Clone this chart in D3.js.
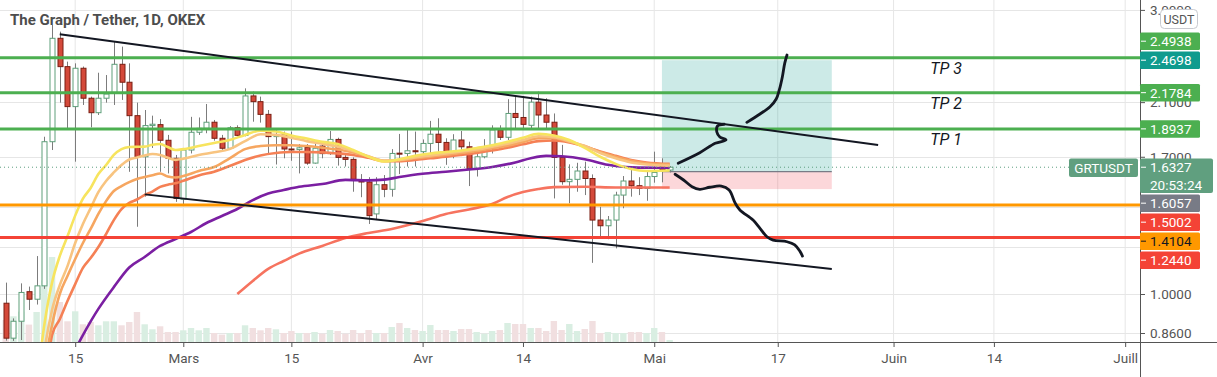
<!DOCTYPE html>
<html>
<head>
<meta charset="utf-8">
<script src="https://cdn.jsdelivr.net/npm/d3@7"></script>
<style>
  body { margin: 0; background: #fff; }
  svg { display: block; font-family: Roboto, 'Noto Sans', sans-serif; }
</style>
</head>
<body>
<div id="chartContainer"></div>
<script>
/** GRT/USDT 1D OKEX - daily candles */
var dates = [
  '2021-02-06','2021-02-07','2021-02-08','2021-02-09','2021-02-10','2021-02-11','2021-02-12','2021-02-13',
  '2021-02-14','2021-02-15','2021-02-16','2021-02-17','2021-02-18','2021-02-19','2021-02-20','2021-02-21',
  '2021-02-22','2021-02-23','2021-02-24','2021-02-25','2021-02-26','2021-02-27','2021-02-28',
  '2021-03-01','2021-03-02','2021-03-03','2021-03-04','2021-03-05','2021-03-06','2021-03-07','2021-03-08',
  '2021-03-09','2021-03-10','2021-03-11','2021-03-12','2021-03-13','2021-03-14','2021-03-15','2021-03-16',
  '2021-03-17','2021-03-18','2021-03-19','2021-03-20','2021-03-21','2021-03-22','2021-03-23','2021-03-24',
  '2021-03-25','2021-03-26','2021-03-27','2021-03-28','2021-03-29','2021-03-30','2021-03-31',
  '2021-04-01','2021-04-02','2021-04-03','2021-04-04','2021-04-05','2021-04-06','2021-04-07','2021-04-08',
  '2021-04-09','2021-04-10','2021-04-11','2021-04-12','2021-04-13','2021-04-14','2021-04-15','2021-04-16',
  '2021-04-17','2021-04-18','2021-04-19','2021-04-20','2021-04-21','2021-04-22','2021-04-23','2021-04-24',
  '2021-04-25','2021-04-26','2021-04-27','2021-04-28','2021-04-29','2021-04-30',
  '2021-05-01','2021-05-02','2021-05-03'
]
var opens = [
  0.965,0.843,0.900,1.009,0.980,1.032,1.802,2.688,2.409,2.064,2.394,2.132,2.016,2.132,2.178,2.431,2.268,1.993,1.700,1.918,1.925,1.812,1.690,
  1.443,1.745,1.869,1.898,1.943,1.826,1.757,1.902,1.847,2.151,2.104,2.003,1.838,1.850,1.752,1.748,1.762,1.659,1.772,1.721,1.818,1.696,1.683,1.548,1.542,1.363,1.526,1.499,1.724,1.722,1.740,
  1.734,1.790,1.855,1.797,1.730,1.814,1.767,1.625,1.700,1.764,1.886,1.833,2.010,1.979,1.920,2.100,1.998,1.943,1.696,1.544,1.558,1.609,1.563,1.331,1.302,1.331,1.466,1.548,1.520,1.504,
  1.575,1.640,1.615
]
var highs = [
  1.045,0.910,1.042,1.029,1.158,1.837,2.830,2.758,2.456,2.440,2.410,2.145,2.353,2.332,2.653,2.603,2.440,2.096,2.037,1.993,1.967,1.850,1.712,
  1.757,1.984,1.979,2.085,1.960,1.850,1.914,1.920,2.215,2.188,2.145,2.037,1.886,1.874,1.874,1.786,1.786,1.786,1.786,1.878,1.830,1.722,1.696,1.590,1.571,1.571,1.584,1.751,1.857,1.890,1.874,
  1.818,1.953,1.973,1.826,1.855,1.878,1.802,1.757,1.820,1.920,1.920,2.124,2.151,2.151,2.145,2.188,2.132,2.010,1.780,1.651,1.661,1.668,1.588,1.401,1.352,1.485,1.578,1.620,1.571,1.615,
  1.734,1.690,1.640
]
var lows = [
  0.835,0.834,0.837,0.940,0.960,1.020,1.745,2.096,1.898,1.668,2.077,1.905,1.998,2.096,2.077,2.118,1.604,1.297,1.457,1.759,1.604,1.594,1.428,
  1.416,1.722,1.850,1.862,1.809,1.745,1.750,1.840,1.840,1.947,1.940,1.722,1.650,1.690,1.674,1.594,1.648,1.655,1.690,1.712,1.643,1.637,1.485,1.454,1.311,1.331,1.454,1.457,1.590,1.637,1.637,
  1.690,1.722,1.734,1.648,1.690,1.712,1.518,1.575,1.690,1.722,1.814,1.814,1.898,1.886,1.886,1.898,1.898,1.447,1.526,1.420,1.485,1.466,1.128,1.245,1.236,1.193,1.393,1.457,1.466,1.434,
  1.538,1.540,1.600
]
var closes = [
  0.843,0.900,1.006,0.980,1.032,1.802,2.688,2.409,2.064,2.394,2.132,2.016,2.132,2.167,2.431,2.268,1.993,1.700,1.918,1.928,1.812,1.690,1.447,
  1.745,1.869,1.898,1.943,1.826,1.757,1.902,1.847,2.151,2.104,2.003,1.838,1.850,1.752,1.748,1.760,1.659,1.757,1.721,1.818,1.696,1.683,1.558,1.542,1.354,1.526,1.499,1.722,1.720,1.740,1.736,
  1.790,1.855,1.797,1.730,1.814,1.767,1.625,1.700,1.764,1.886,1.833,2.010,1.979,1.927,2.100,1.998,1.943,1.696,1.544,1.558,1.609,1.563,1.331,1.302,1.331,1.466,1.548,1.520,1.504,1.575,
  1.600,1.615,1.6327
]
var volumes = [
  22,25.7,30.4,17.4,30,61.7,85,40,20.7,30.7,17.7,20,16.7,20.7,20.7,16.7,20,30,17.7,12.7,15.7,10,10,
  11.7,14,11.7,14,9,7.4,9,9,16.7,14,11.7,14,12.7,9,11,9,9,10,8.3,12,11,8.3,12,9,12,9,9,15,19,14,12,
  11,17,12,12,11,13,13,10,8.3,11,12,19,18,18,14,14,11,21,12,18,11,13,21,9,10,9,9,10,10,9,
  14,10,2
]

/** moving averages, read at sample days (offset from 1 Mars) */
var ribbonDays = [-19,-18,-17,-16,-15,-14,-13,-12,-11,-10,-9,-8,-7,-6,-5,-4,-3,-2,-1,0,2,4,6,8,10,12,14,16,18,20,22,24,26,28,30,32,34,36,38,40,42,44,46,48,50,52,54,56,58,60,63]
var emaYellow = [0.70,0.887,1.045,1.158,1.250,1.354,1.446,1.507,1.590,1.647,1.712,1.751,1.765,1.767,1.768,1.781,1.786,1.765,1.745,1.751,1.772,1.793,1.814,1.850,1.881,1.874,1.846,1.824,1.802,1.786,1.745,1.700,1.669,1.684,1.706,1.722,1.732,1.742,1.759,1.778,1.802,1.830,1.858,1.846,1.814,1.759,1.700,1.654,1.622,1.609,1.612]
var emaLight = [0.62,0.80,0.940,1.035,1.114,1.218,1.311,1.394,1.483,1.548,1.600,1.647,1.682,1.696,1.709,1.718,1.712,1.693,1.680,1.688,1.712,1.730,1.751,1.806,1.855,1.850,1.830,1.806,1.788,1.768,1.739,1.703,1.675,1.679,1.696,1.709,1.722,1.735,1.748,1.768,1.788,1.814,1.840,1.833,1.806,1.772,1.725,1.690,1.663,1.650,1.643]
var emaOrange = [0.60,0.75,0.887,1.000,1.072,1.145,1.218,1.286,1.363,1.432,1.489,1.518,1.541,1.560,1.572,1.583,1.594,1.575,1.569,1.578,1.609,1.634,1.690,1.751,1.772,1.778,1.778,1.772,1.761,1.748,1.729,1.700,1.674,1.677,1.690,1.701,1.712,1.725,1.739,1.757,1.775,1.800,1.826,1.826,1.802,1.772,1.732,1.700,1.674,1.658,1.650]
var emaDark = [0.60,0.70,0.853,0.907,0.973,1.039,1.106,1.149,1.199,1.261,1.331,1.389,1.422,1.441,1.467,1.486,1.513,1.526,1.534,1.549,1.582,1.605,1.640,1.679,1.709,1.725,1.732,1.732,1.729,1.722,1.712,1.693,1.671,1.671,1.679,1.690,1.700,1.712,1.725,1.742,1.761,1.784,1.806,1.810,1.796,1.768,1.735,1.706,1.679,1.663,1.654]
var purpleDays = [-15,-13,-11,-9,-7,-5,-3,-1,1,3,5,7,9,11,13,15,18,21,24,26,28,31,34,37,40,43,45,47,49,52,55,58,63]
var emaPurple = [0.76,0.853,0.944,1.027,1.108,1.154,1.204,1.237,1.271,1.316,1.352,1.389,1.438,1.475,1.495,1.514,1.530,1.555,1.552,1.556,1.572,1.592,1.604,1.618,1.634,1.663,1.690,1.706,1.703,1.684,1.648,1.632,1.629]
var salmonDays = [7,9,11,13,15,18,21,24,27,31,34,37,40,42,44,46,48,52,56,60,63]
var emaSalmon = [1.000,1.052,1.102,1.136,1.169,1.204,1.242,1.266,1.286,1.326,1.363,1.387,1.416,1.455,1.483,1.501,1.512,1.514,1.510,1.510,1.510]

/** horizontal levels */
var levelPrices = [2.4938, 2.1784, 1.8937, 1.4104, 1.2440]
var levelColors = ['#4caf50', '#4caf50', '#4caf50', '#ff9800', '#f44336']
var tpNames = ['TP 3', 'TP 2', 'TP 1']

/** trend lines */
var trendUpperDates = ['2021-02-13', '2021-05-30']
var trendUpperPrices = [2.730, 1.779]
var trendLowerDates = ['2021-02-24', '2021-05-24']
var trendLowerPrices = [1.470, 1.102]

/** long position tool */
var posDates = ['2021-05-02', '2021-05-24']
var posTarget = 2.4698, posEntry = 1.6057, posStop = 1.5002

/** hand drawn paths (day offset from 1 Mars, price) */
var drawUpDays = [64.1, 66.9, 68.9, 70.3, 69.5, 69.1, 69.2, 70.05]
var drawUpPrices = [1.658, 1.727, 1.791, 1.814, 1.835, 1.873, 1.915, 1.928]
var drawUp2Days = [73.0, 74.7, 76.0, 76.8, 77.2, 77.6, 77.9, 78.2]
var drawUp2Prices = [1.942, 2.006, 2.063, 2.126, 2.201, 2.317, 2.440, 2.520]
var drawDownDays = [63.7, 64.8, 65.9, 66.9, 68.2, 69.7, 70.7, 71.5, 72.1, 73.8, 74.7, 75.6, 76.4, 78.2, 79.2, 79.9, 80.2]
var drawDownPrices = [1.589, 1.554, 1.514, 1.499, 1.511, 1.518, 1.495, 1.420, 1.384, 1.331, 1.289, 1.248, 1.232, 1.224, 1.209, 1.178, 1.158]

/** axes */
var xTickDates = ['2021-02-15','2021-03-01','2021-03-15','2021-04-01','2021-04-14','2021-05-01','2021-05-17','2021-06-01','2021-06-14','2021-07-01']
var xTickLabels = ['15', 'Mars', '15', 'Avr', '14', 'Mai', '17', 'Juin', '14', 'Juill']
var yTicks = [3, 2.5, 2.1, 1.7, 1.4, 1.2, 1, 0.86]
var axisLabelPrices = [2.4938, 2.4698, 2.1784, 1.8937, 1.6057, 1.5002, 1.4104, 1.2440]
var axisLabelBg = ['#4caf50', '#0f9b8e', '#4caf50', '#4caf50', '#787b86', '#f44336', '#ff9800', '#f44336']
var axisLabelFg = ['#fff', '#fff', '#fff', '#fff', '#fff', '#fff', '#131722', '#fff']
var lastPrice = 1.6327, countdown = '20:53:24', symbol = 'GRTUSDT'
var title = 'The Graph / Tether, 1D, OKEX'

var W = 1217, H = 377, plotW = 1140, plotH = 342
var parse = d3.utcParse('%Y-%m-%d')
var mar1 = parse('2021-03-01')
function dayOf(n) { return new Date(mar1.getTime() + n * 864e5) }

var x = d3.scaleUtc().domain([parse('2021-02-05'), parse('2021-07-03')]).range([-2, 1140.6])
var y = d3.scaleLog().domain([1, 3]).range([294, 9.9])
var yVol = d3.scaleLinear().domain([0, 85]).range([plotH, plotH - 85])

var candles = dates.map(function(d, i) {
  return { date: parse(d), o: opens[i], h: highs[i], l: lows[i], c: closes[i], v: volumes[i], up: closes[i] >= opens[i] }
})

var svgContainer = d3.select('#chartContainer')
  .append('svg')
  .attr('width', W)
  .attr('height', H)

svgContainer.append('rect').attr('width', W).attr('height', H).attr('fill', '#fff')

svgContainer.append('defs').append('clipPath').attr('id', 'plotClip')
  .append('rect').attr('x', 0).attr('y', 0).attr('width', plotW).attr('height', plotH)

var plot = svgContainer.append('g').attr('clip-path', 'url(#plotClip)')

/** grid */
plot.append('g').selectAll('line')
  .data(xTickDates.map(parse))
  .enter().append('line')
  .attr('x1', d => x(d)).attr('x2', d => x(d))
  .attr('y1', 0).attr('y2', plotH)
  .attr('stroke', '#e6e6e6')
plot.append('g').selectAll('line')
  .data(yTicks)
  .enter().append('line')
  .attr('x1', 0).attr('x2', plotW)
  .attr('y1', d => Math.round(y(d)) + 0.5).attr('y2', d => Math.round(y(d)) + 0.5)
  .attr('stroke', '#e6e6e6')

/** volume */
plot.append('g').selectAll('rect')
  .data(candles)
  .enter().append('rect')
  .attr('x', d => x(d.date) - 3.2)
  .attr('width', 6.4)
  .attr('y', d => yVol(d.v))
  .attr('height', d => plotH - yVol(d.v))
  .attr('fill', d => d.up ? '#d9eee2' : '#f1dfe0')

/** position tool */
var px0 = x(parse(posDates[0])), px1 = x(parse(posDates[1]))
plot.append('rect')
  .attr('x', px0).attr('width', px1 - px0)
  .attr('y', y(posTarget)).attr('height', y(posEntry) - y(posTarget))
  .attr('fill', 'rgba(0,150,136,0.2)')
plot.append('rect')
  .attr('x', px0).attr('width', px1 - px0)
  .attr('y', y(posEntry)).attr('height', y(posStop) - y(posEntry))
  .attr('fill', 'rgba(242,54,69,0.2)')
plot.append('line')
  .attr('x1', px0).attr('x2', px1)
  .attr('y1', y(posEntry)).attr('y2', y(posEntry))
  .attr('stroke', '#787b86').attr('stroke-width', 1.2)

/** candles */
var gCandles = plot.append('g')
gCandles.selectAll('line')
  .data(candles)
  .enter().append('line')
  .attr('x1', d => Math.round(x(d.date)) + 0.5).attr('x2', d => Math.round(x(d.date)) + 0.5)
  .attr('y1', d => y(d.h)).attr('y2', d => y(d.l))
  .attr('stroke', '#7c7c7c')
gCandles.selectAll('rect')
  .data(candles)
  .enter().append('rect')
  .attr('x', d => Math.round(x(d.date)) - 2)
  .attr('width', 5)
  .attr('y', d => y(Math.max(d.o, d.c)))
  .attr('height', d => Math.max(1, y(Math.min(d.o, d.c)) - y(Math.max(d.o, d.c))))
  .attr('fill', d => d.up ? '#ffffff' : '#d4493a')
  .attr('stroke', d => d.up ? '#5e9f7a' : '#7a1e12')
  .attr('stroke-width', 1)

/** moving averages */
var maLines = [
  { days: salmonDays, vals: emaSalmon, color: '#f6735f' },
  { days: purpleDays, vals: emaPurple, color: '#7b1fa2' },
  { days: ribbonDays, vals: emaDark, color: '#f58055' },
  { days: ribbonDays, vals: emaOrange, color: '#f6a660' },
  { days: ribbonDays, vals: emaLight, color: '#f8c480' },
  { days: ribbonDays, vals: emaYellow, color: '#f7e45e' }
]
var maLine = d3.line()
  .x(d => x(dayOf(d[0])))
  .y(d => y(d[1]))
  .curve(d3.curveMonotoneX)
plot.append('g').selectAll('path')
  .data(maLines)
  .enter().append('path')
  .attr('d', d => maLine(d.days.map((t, i) => [t, d.vals[i]])))
  .attr('fill', 'none')
  .attr('stroke', d => d.color)
  .attr('stroke-width', 2.6)
  .attr('stroke-linejoin', 'round')

/** last price line */
plot.append('line')
  .attr('x1', 0).attr('x2', plotW)
  .attr('y1', y(lastPrice)).attr('y2', y(lastPrice))
  .attr('stroke', '#5d9f80').attr('stroke-dasharray', '1,3')

/** levels */
plot.append('g').selectAll('line')
  .data(levelPrices)
  .enter().append('line')
  .attr('x1', 0).attr('x2', plotW)
  .attr('y1', d => y(d)).attr('y2', d => y(d))
  .attr('stroke', (d, i) => levelColors[i])
  .attr('stroke-width', 3)

/** trend lines */
var trends = [
  trendUpperDates.map((d, i) => [parse(d), trendUpperPrices[i]]),
  trendLowerDates.map((d, i) => [parse(d), trendLowerPrices[i]])
]
plot.append('g').selectAll('line')
  .data(trends)
  .enter().append('line')
  .attr('x1', d => x(d[0][0])).attr('y1', d => y(d[0][1]))
  .attr('x2', d => x(d[1][0])).attr('y2', d => y(d[1][1]))
  .attr('stroke', '#131722').attr('stroke-width', 2)

/** hand drawn scenario */
var drawings = [
  drawUpDays.map((t, i) => [t, drawUpPrices[i]]),
  drawUp2Days.map((t, i) => [t, drawUp2Prices[i]]),
  drawDownDays.map((t, i) => [t, drawDownPrices[i]])
]
var freeLine = d3.line()
  .x(d => x(dayOf(d[0])))
  .y(d => y(d[1]))
  .curve(d3.curveCatmullRom)
plot.append('g').selectAll('path')
  .data(drawings)
  .enter().append('path')
  .attr('d', freeLine)
  .attr('fill', 'none')
  .attr('stroke', '#131722')
  .attr('stroke-width', 2.8)
  .attr('stroke-linecap', 'round')
  .attr('stroke-linejoin', 'round')

/** TP texts */
plot.append('g').selectAll('text')
  .data(tpNames)
  .enter().append('text')
  .attr('x', x(new Date('2021-06-05T18:00:00Z')))
  .attr('y', (d, i) => y(levelPrices[i]) + 16)
  .attr('font-size', 16)
  .attr('font-style', 'italic')
  .attr('fill', '#131722')
  .text(d => d)

/** x axis */
var xAxis = d3.axisBottom(x)
  .tickValues(xTickDates.map(parse))
  .tickFormat((d, i) => xTickLabels[i])
  .tickSize(5)
  .tickPadding(6)
var gX = svgContainer.append('g').attr('transform', 'translate(0,' + plotH + ')').call(xAxis)
gX.select('.domain').remove()
gX.selectAll('line').attr('stroke', '#555')
gX.selectAll('text').attr('font-size', 13.5).attr('fill', '#555').attr('font-family', 'Roboto, sans-serif')

/** price labels on the axis, stacked so they do not overlap */
var lblH = 17.5, lblGap = 1.5
var anchorTop = y(lastPrice) - 8.7, anchorH = 34.4
var labels = axisLabelPrices.map((p, i) => ({ p: p, bg: axisLabelBg[i], fg: axisLabelFg[i], cy: y(p) }))
var limit = anchorTop - lblGap
labels.filter(d => d.p > lastPrice).sort((a, b) => b.cy - a.cy).forEach(function(d) {
  var bottom = Math.min(d.cy + lblH / 2, limit)
  d.top = bottom - lblH
  limit = d.top - lblGap
})
limit = anchorTop + anchorH + lblGap
labels.filter(d => d.p <= lastPrice).sort((a, b) => a.cy - b.cy).forEach(function(d) {
  d.top = Math.max(d.cy - lblH / 2, limit)
  limit = d.top + lblH + lblGap
})

/** y axis - a tick text fully under a price label stays hidden */
function covered(v) {
  var ty = y(v)
  return labels.some(d => Math.abs(ty - (d.top + lblH / 2)) < lblH / 2 - 2)
}
var yAxis = d3.axisRight(y)
  .tickValues(yTicks)
  .tickFormat(d => covered(d) ? '' : d3.format('.4f')(d))
  .tickSize(5)
  .tickPadding(5)
var gY = svgContainer.append('g').attr('transform', 'translate(' + plotW + ',0)').call(yAxis)
gY.select('.domain').remove()
gY.selectAll('line').attr('stroke', '#555')
gY.selectAll('text').attr('font-size', 13.5).attr('fill', '#555').attr('font-family', 'Roboto, sans-serif')

svgContainer.append('line')
  .attr('x1', 0).attr('x2', W).attr('y1', plotH + 0.5).attr('y2', plotH + 0.5)
  .attr('stroke', '#555')
svgContainer.append('line')
  .attr('x1', plotW + 0.5).attr('x2', plotW + 0.5).attr('y1', 0).attr('y2', H)
  .attr('stroke', '#555')

/** USDT badge */
svgContainer.append('rect')
  .attr('x', 1160.5).attr('y', 9.5).attr('width', 37).attr('height', 19).attr('rx', 4)
  .attr('fill', '#fff').attr('stroke', '#c8cad0')
svgContainer.append('text')
  .attr('x', 1179).attr('y', 19.5)
  .attr('text-anchor', 'middle').attr('dominant-baseline', 'central')
  .attr('font-size', 12.5).attr('fill', '#555')
  .text('USDT')

var gLabels = svgContainer.append('g')
var lbl = gLabels.selectAll('g')
  .data(labels)
  .enter().append('g')
  .attr('transform', d => 'translate(' + plotW + ',' + d.top + ')')
lbl.append('rect')
  .attr('width', 60).attr('height', lblH).attr('rx', 1.5)
  .attr('fill', d => d.bg)
lbl.append('line')
  .attr('x1', 1).attr('x2', 6).attr('y1', lblH / 2).attr('y2', lblH / 2)
  .attr('stroke', d => d.fg)
lbl.append('text')
  .attr('x', 10).attr('y', lblH / 2)
  .attr('dominant-baseline', 'central')
  .attr('font-size', 13.5)
  .attr('fill', d => d.fg)
  .text(d => d3.format('.4f')(d.p))

/** current price label */
var gPrice = svgContainer.append('g').attr('transform', 'translate(' + plotW + ',' + anchorTop + ')')
gPrice.append('rect').attr('width', 73).attr('height', anchorH).attr('rx', 2).attr('fill', '#609f7f')
gPrice.append('line').attr('x1', 1).attr('x2', 6).attr('y1', 8.7).attr('y2', 8.7).attr('stroke', '#fff')
gPrice.append('text')
  .attr('x', 10).attr('y', 8.7).attr('dominant-baseline', 'central')
  .attr('font-size', 13.5).attr('fill', '#fff')
  .text(d3.format('.4f')(lastPrice))
gPrice.append('text')
  .attr('x', 10).attr('y', 26).attr('dominant-baseline', 'central')
  .attr('font-size', 13.5).attr('fill', '#fff')
  .text(countdown)

var gSym = svgContainer.append('g').attr('transform', 'translate(1069,' + anchorTop + ')')
gSym.append('rect').attr('width', 69).attr('height', 18.4).attr('rx', 2).attr('fill', '#609f7f')
gSym.append('text')
  .attr('x', 34.5).attr('y', 9.2)
  .attr('text-anchor', 'middle').attr('dominant-baseline', 'central')
  .attr('font-size', 13.5).attr('fill', '#fff')
  .text(symbol)

/** title */
svgContainer.append('text')
  .attr('x', 10).attr('y', 20)
  .attr('dominant-baseline', 'central')
  .attr('font-size', 15)
  .attr('font-weight', 700)
  .attr('fill', '#4d4d4d')
  .text(title)
</script>
</body>
</html>
